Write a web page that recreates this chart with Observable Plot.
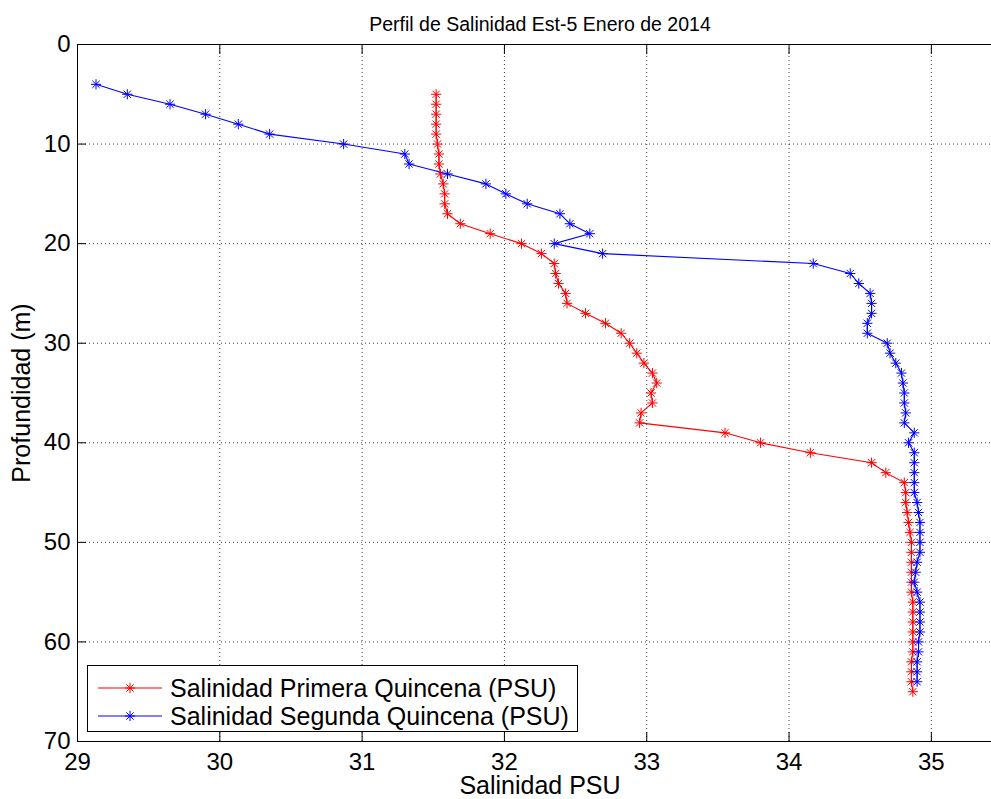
<!DOCTYPE html>
<html><head><meta charset="utf-8">
<script src="https://cdn.jsdelivr.net/npm/d3@7"></script>
<script src="https://cdn.jsdelivr.net/npm/@observablehq/plot@0.6"></script>
<style>
body{margin:0;background:#fff;overflow:hidden}
#chart{width:991px;height:799px;overflow:hidden;position:relative;background:#fff}
</style>
</head><body><div id="chart"></div>
<script>
const titleText = "Perfil de Salinidad Est-5 Enero de 2014";
const xLabel = "Salinidad PSU";
const yLabel = "Profundidad (m)";
const seriesNames = ["Salinidad Primera Quincena (PSU)", "Salinidad Segunda Quincena (PSU)"];
const seriesColors = ["#ff0000", "#0000ff"];
const xTicks = [29, 30, 31, 32, 33, 34, 35];
const yTicks = [0, 10, 20, 30, 40, 50, 60, 70];

const depthPrimera = [5,6,7,8,9,10,11,12,13,14,15,16,17,18,19,20,21,22,23,24,25,26,27,28,29,30,31,32,33,34,35,36,37,38,39,40,41,42,43,44,45,46,47,48,49,50,51,52,53,54,55,56,57,58,59,60,61,62,63,64,65];
const salPrimera = [31.52,31.52,31.52,31.52,31.52,31.53,31.54,31.54,31.55,31.57,31.58,31.58,31.60,31.69,31.90,32.12,32.26,32.35,32.36,32.38,32.43,32.44,32.57,32.71,32.82,32.88,32.93,32.98,33.04,33.07,33.03,33.04,32.96,32.95,33.55,33.80,34.15,34.58,34.68,34.81,34.82,34.82,34.83,34.84,34.85,34.86,34.86,34.86,34.86,34.86,34.86,34.87,34.87,34.87,34.87,34.87,34.87,34.86,34.86,34.86,34.87];

const depthSegunda = [4,5,6,7,8,9,10,11,12,13,14,15,16,17,18,19,20,21,22,23,24,25,26,27,28,29,30,31,32,33,34,35,36,37,38,39,40,41,42,43,44,45,46,47,48,49,50,51,52,53,54,55,56,57,58,59,60,61,62,63,64];
const salSegunda = [29.13,29.35,29.65,29.90,30.13,30.35,30.87,31.30,31.33,31.60,31.87,32.01,32.16,32.39,32.46,32.60,32.35,32.69,34.17,34.43,34.49,34.57,34.58,34.58,34.55,34.55,34.69,34.71,34.75,34.79,34.80,34.81,34.81,34.82,34.81,34.88,34.84,34.88,34.88,34.88,34.88,34.88,34.90,34.91,34.92,34.92,34.92,34.92,34.90,34.89,34.88,34.90,34.92,34.92,34.92,34.92,34.91,34.91,34.90,34.90,34.90];

const primera = depthPrimera.map((d, i) => ({depth: d, sal: salPrimera[i]}));
const segunda = depthSegunda.map((d, i) => ({depth: d, sal: salSegunda[i]}));

const W = 1010;
const font = "'Liberation Sans', Arial, Helvetica, sans-serif";
const gridStyle = {stroke: "#000", strokeOpacity: 0.75, strokeDasharray: "1,3"};
const markerR = 3.4;
const intFmt = d => String(d);

function seriesMarks(data, color) {
  return [
    Plot.line(data, {x: "sal", y: "depth", stroke: color, strokeWidth: 1.1}),
    Plot.dot(data, {x: "sal", y: "depth", symbol: "plus", r: markerR, stroke: color, strokeWidth: 1, fill: "none"}),
    Plot.dot(data, {x: "sal", y: "depth", symbol: "times", r: markerR, stroke: color, strokeWidth: 1, fill: "none"})
  ];
}

const plot = Plot.plot({
  width: W,
  height: 799,
  marginLeft: 77,
  marginRight: W - 1002,
  marginTop: 44,
  marginBottom: 58,
  style: {fontFamily: font, background: "#fff", maxWidth: "none", color: "#000"},
  x: {domain: [29, 35.5], label: null},
  y: {domain: [0, 70], reverse: true, label: null},
  marks: [
    Plot.gridX(xTicks.slice(1), gridStyle),
    Plot.gridY(yTicks.slice(1, -1), gridStyle),
    Plot.axisX(xTicks, {anchor: "bottom", tickSize: 9, dy: -9, text: null, stroke: "#000"}),
    Plot.axisX(xTicks, {anchor: "top", tickSize: 9, dy: 9, text: null, stroke: "#000"}),
    Plot.axisY(yTicks, {anchor: "left", tickSize: 9, dx: 9, text: null, stroke: "#000"}),
    Plot.axisX(xTicks, {anchor: "bottom", tickSize: 0, tickPadding: 11, fontSize: 24, label: null, fill: "#000", tickFormat: intFmt}),
    Plot.axisY(yTicks, {anchor: "left", tickSize: 0, tickPadding: 7, fontSize: 24, label: null, fill: "#000", tickFormat: intFmt}),
    Plot.frame({stroke: "#000", strokeWidth: 1}),
    ...seriesMarks(primera, seriesColors[0]),
    ...seriesMarks(segunda, seriesColors[1]),
    Plot.text([titleText], {frameAnchor: "top", dy: -27, fontSize: 19.5, fill: "#000", textAnchor: "middle"}),
    Plot.text([xLabel], {frameAnchor: "bottom", dy: 52, fontSize: 25, fill: "#000", textAnchor: "middle"}),
    Plot.text([yLabel], {frameAnchor: "left", dx: -56, rotate: -90, fontSize: 25, fill: "#000", textAnchor: "middle"})
  ]
});
plot.style.maxWidth = "none";

// Legend box (inside the axes, lower left)
const svg = d3.select(plot);
const lg = svg.append("g").attr("font-family", font).attr("text-anchor", "start");
lg.append("rect").attr("x", 87.5).attr("y", 665.5).attr("width", 490).attr("height", 66)
  .attr("fill", "#fff").attr("stroke", "#000").attr("stroke-width", 1);
const rowsY = [688, 716];
seriesNames.forEach((name, i) => {
  const y = rowsY[i];
  lg.append("line").attr("x1", 98).attr("x2", 162).attr("y1", y).attr("y2", y)
    .attr("stroke", seriesColors[i]).attr("stroke-width", 1.1);
  const size = Math.PI * markerR * markerR;
  ["symbolPlus", "symbolTimes"].forEach(s => {
    lg.append("path").attr("d", d3.symbol(d3[s], size)())
      .attr("transform", `translate(130,${y})`)
      .attr("fill", "none").attr("stroke", seriesColors[i]).attr("stroke-width", 1);
  });
  lg.append("text").attr("x", 170).attr("y", y).attr("dy", "0.35em")
    .attr("text-anchor", "start").attr("font-size", 25).attr("fill", "#000").text(name);
});

document.getElementById("chart").appendChild(plot);
</script>
</body></html>
